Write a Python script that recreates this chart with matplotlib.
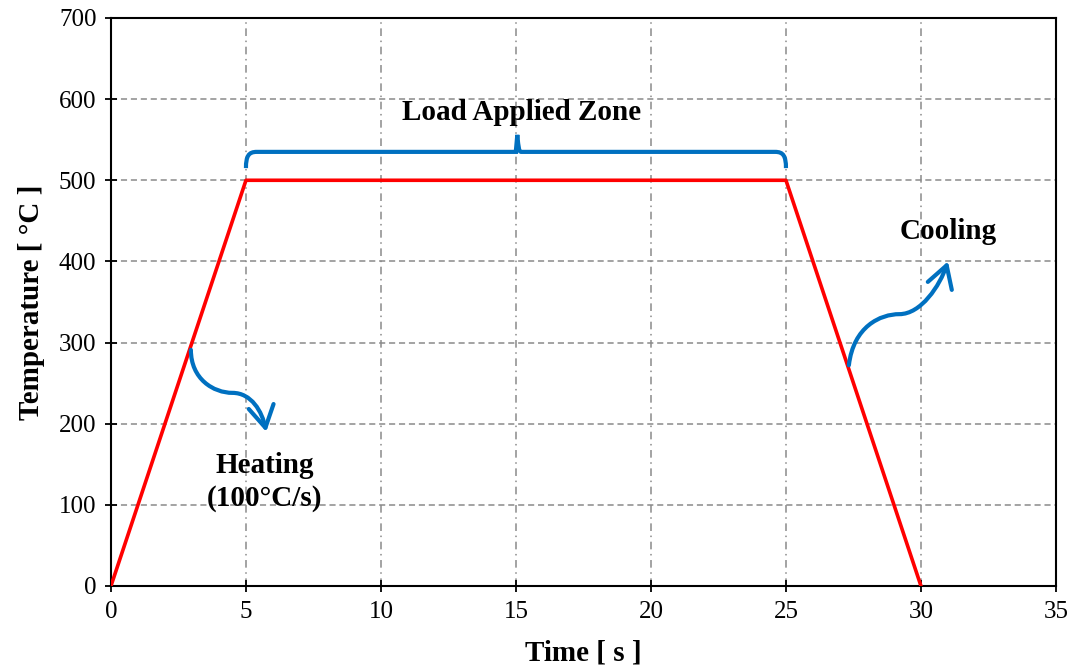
import matplotlib.pyplot as plt
from matplotlib.path import Path
from matplotlib.patches import FancyArrowPatch, PathPatch

plt.rcParams['font.family'] = ['Liberation Serif', 'DejaVu Serif']

# temperature profile: heat at 100 C/s, hold, cool
time = [0, 5, 25, 30]
temp = [0, 500, 500, 0]

xticks = [0, 5, 10, 15, 20, 25, 30, 35]
yticks = [0, 100, 200, 300, 400, 500, 600, 700]

blue = '#0070C0'

fig = plt.figure(figsize=(10.69, 6.69), dpi=100)
ax = fig.add_axes([0.1038, 0.1241, 0.8840, 0.8490])

ax.plot(time, temp, color='#FF0000', lw=2.6, zorder=3)

ax.set_xlim(0, 35)
ax.set_ylim(0, 700)
ax.set_xticks(xticks)
ax.set_yticks(yticks)
ax.tick_params(direction='inout', length=9, width=1.3, labelsize=18, pad=6)
for s in ax.spines.values():
    s.set_linewidth(1.5)

ax.xaxis.grid(True, color='#8a8a8a', lw=1.1, linestyle=(0, (5, 3, 1, 3)))
ax.yaxis.grid(True, color='#8a8a8a', lw=1.1, linestyle=(0, (4, 2.5)))
ax.set_axisbelow(True)

ax.set_xlabel('Time [ s ]', fontsize=21, fontweight='bold', labelpad=12)
ax.set_ylabel('Temperature [ °C ]', fontsize=21, fontweight='bold', labelpad=10)

# brace over the hold period
brace = Path([(5, 515), (5, 530), (5.1, 535), (5.4, 535),
              (15, 535),
              (15.0, 535), (15.0, 540), (15.05, 556),
              (15.1, 540), (15.1, 535), (15.2, 535),
              (24.6, 535),
              (24.9, 535), (25, 530), (25, 515)],
             [Path.MOVETO, Path.CURVE4, Path.CURVE4, Path.CURVE4,
              Path.LINETO,
              Path.CURVE4, Path.CURVE4, Path.CURVE4,
              Path.CURVE4, Path.CURVE4, Path.CURVE4,
              Path.LINETO,
              Path.CURVE4, Path.CURVE4, Path.CURVE4])
ax.add_patch(PathPatch(brace, fill=False, edgecolor=blue, lw=3.0, zorder=4))

heat = Path([(2.96, 291), (2.96, 255), (3.8, 238), (4.5, 238),
             (5.2, 238), (5.6, 215), (5.75, 190)],
            [Path.MOVETO, Path.CURVE4, Path.CURVE4, Path.CURVE4,
             Path.CURVE4, Path.CURVE4, Path.CURVE4])
ax.add_patch(FancyArrowPatch(path=heat, arrowstyle='->,head_length=0.6,head_width=0.35',
                             mutation_scale=26, color=blue, lw=3.0, zorder=4))

cool = Path([(27.33, 272), (27.5, 320), (28.5, 335), (29.2, 335),
             (30.0, 335), (30.7, 370), (31.0, 400)],
            [Path.MOVETO, Path.CURVE4, Path.CURVE4, Path.CURVE4,
             Path.CURVE4, Path.CURVE4, Path.CURVE4])
ax.add_patch(FancyArrowPatch(path=cool, arrowstyle='->,head_length=0.6,head_width=0.35',
                             mutation_scale=26, color=blue, lw=3.0, zorder=4))

ax.text(15.2, 583, 'Load Applied Zone', fontsize=21, fontweight='bold',
        ha='center', va='center')
ax.text(31.0, 437, 'Cooling', fontsize=21, fontweight='bold',
        ha='center', va='center')
ax.text(5.7, 128, 'Heating\n(100°C/s)', fontsize=21, fontweight='bold',
        ha='center', va='center', linespacing=1.25)

fig.savefig('out.png', dpi=100)
